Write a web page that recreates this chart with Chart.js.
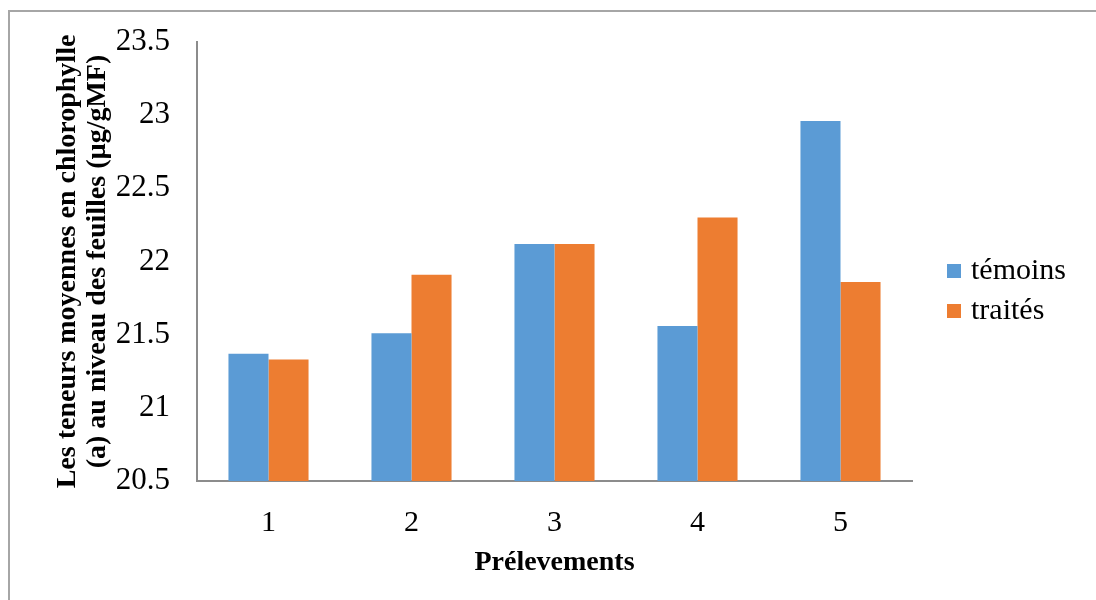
<!DOCTYPE html>
<html>
<head>
<meta charset="utf-8">
<title>Chlorophylle (a)</title>
<script src="https://cdn.jsdelivr.net/npm/chart.js@4/dist/chart.umd.min.js"></script>
<style>
    html, body { margin: 0; padding: 0; background: #fff; }
    #wrap { position: relative; width: 1096px; height: 600px; overflow: hidden; }
    #frame {
        position: absolute; left: 8px; top: 10px; width: 1200px; height: 700px;
        border-top: 2px solid #a6a6a6; border-left: 2px solid #a6a6a6;
    }
    #chartBox { position: absolute; left: 0; top: 0; width: 1096px; height: 600px; }
</style>
</head>
<body>
<div id="wrap">
    <div id="frame"></div>
    <div id="chartBox"><canvas id="chlChart"></canvas></div>
</div>
<script>
// ===== DATA =====
const prelevements = ['1', '2', '3', '4', '5'];
const temoins = [21.37, 21.51, 22.12, 21.56, 22.96];
const traites = [21.33, 21.91, 22.12, 22.30, 21.86];
const yTicks = [20.5, 21, 21.5, 22, 22.5, 23, 23.5];

const SERIF = "'Liberation Serif', 'Times New Roman', serif";
const BLUE = '#5B9BD5';
const ORANGE = '#ED7D31';

// legend drawn to the right of the plot, like the Excel original
const sideLegend = {
    id: 'sideLegend',
    afterDraw(chart) {
        const ctx = chart.ctx;
        ctx.save();
        ctx.font = '30px ' + SERIF;
        ctx.textBaseline = 'middle';
        ctx.textAlign = 'left';
        chart.data.datasets.forEach((ds, i) => {
            const y = 270 + i * 40;
            ctx.fillStyle = ds.backgroundColor;
            ctx.fillRect(947, y - 6, 14, 14);
            ctx.fillStyle = '#000';
            ctx.fillText(ds.label, 971, y + 1);
        });
        ctx.restore();
    }
};

const ctx = document.getElementById('chlChart').getContext('2d');
const chart = new Chart(ctx, {
    type: 'bar',
    data: {
        labels: prelevements,
        datasets: [
            { label: 'témoins', data: temoins, backgroundColor: BLUE },
            { label: 'traités', data: traites, backgroundColor: ORANGE }
        ]
    },
    options: {
        responsive: true,
        maintainAspectRatio: false,
        animation: false,
        categoryPercentage: 0.56,
        barPercentage: 1,
        layout: { padding: { left: 52, top: 42, right: 1096 - 912, bottom: 0 } },
        plugins: {
            legend: { display: false },
            tooltip: { enabled: false }
        },
        scales: {
            x: {
                grid: { display: false },
                border: { display: true, color: '#8c8c8c', width: 2 },
                ticks: { color: '#000', font: { family: SERIF, size: 30 }, padding: 16 },
                title: {
                    display: true,
                    text: 'Prélevements',
                    color: '#000',
                    font: { family: SERIF, size: 28, weight: 'bold' },
                    padding: { top: 0, bottom: 20 }
                },
                afterFit: (scale) => { scale.height = 600 - 481; }
            },
            y: {
                min: 20.5,
                max: 23.5,
                grid: { display: false },
                border: { display: true, color: '#8c8c8c', width: 2 },
                afterBuildTicks: (scale) => { scale.ticks = yTicks.map(v => ({ value: v })); },
                ticks: {
                    color: '#000',
                    font: { family: SERIF, size: 31 },
                    padding: 19,
                    callback: (v) => String(v)
                },
                title: {
                    display: true,
                    text: ['Les teneurs moyennes en chlorophylle', '(a) au niveau des feuilles (µg/gMF)'],
                    color: '#000',
                    font: { family: SERIF, size: 28, weight: 'bold', lineHeight: 1.1 },
                    padding: 0
                },
                afterFit: (scale) => { scale.width = 197 - 52; }
            }
        }
    },
    plugins: [sideLegend]
});
</script>
</body>
</html>
